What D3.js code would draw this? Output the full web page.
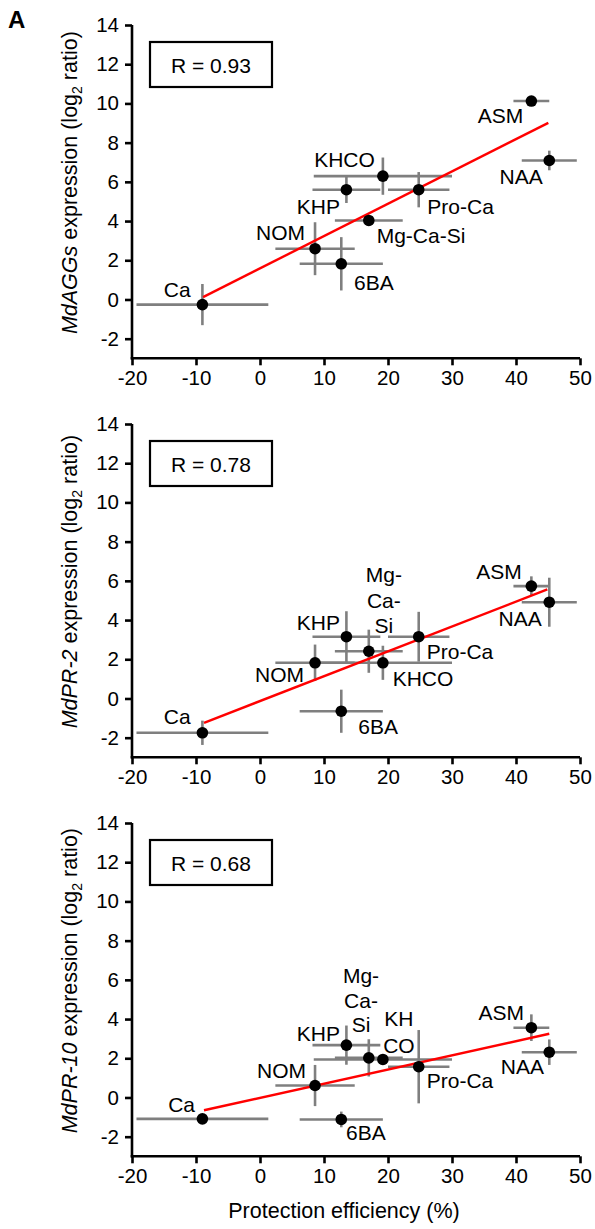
<!DOCTYPE html>
<html><head><meta charset="utf-8">
<script src="https://cdn.jsdelivr.net/npm/d3@7"></script>
<style>
html,body{margin:0;padding:0;background:#fff;}
svg{display:block;font-family:"Liberation Sans",Arial,sans-serif;}
</style></head>
<body>
<svg id="chart" width="595" height="1229"></svg>
<script>
// ---------- data ----------
const treatments = ["ASM","NAA","KHCO","KHP","Pro-Ca","Mg-Ca-Si","NOM","6BA","Ca"];
const protection    = [42.4, 45.2, 19.2, 13.5, 24.8, 17.0, 8.6, 12.7, -9.0];
const protectionErr = [2.8, 4.3, 10.8, 5.3, 4.8, 5.3, 6.2, 6.5, 10.3];

const aggs    = [10.12, 7.09, 6.29, 5.60, 5.60, 4.03, 2.59, 1.82, -0.26];
const aggsErr = [0.2, 0.5, 0.95, 0.68, 0.9, 0.28, 1.35, 1.36, 1.05];
const pr2     = [5.73, 4.91, 1.82, 3.15, 3.15, 2.41, 1.82, -0.65, -1.75];
const pr2Err  = [0.5, 1.25, 0.87, 1.3, 1.27, 1.1, 0.93, 1.1, 0.62];
const pr10    = [3.56, 2.31, 1.94, 2.67, 1.57, 2.02, 0.61, -1.12, -1.09];
const pr10Err = [0.68, 0.65, 0.2, 1.0, 1.87, 0.95, 1.05, 0.4, 0.15];

const rValues = ["0.93", "0.78", "0.68"];
const geneNames = ["MdAGGs", "MdPR-2", "MdPR-10"];
// regression line endpoints [x0, y0, x1, y1]
const fitLines = [[-8.9, 0.12, 45.05, 9.01], [-8.75, -1.24, 44.9, 5.56], [-8.75, -0.65, 45.2, 3.25]];

const xTicks = [-20, -10, 0, 10, 20, 30, 40, 50];
const yTicks = [-2, 0, 2, 4, 6, 8, 10, 12, 14];

// ---------- layout (label placement) ----------
const labelLayout = [
  { "ASM":{dx:-8,dy:22,a:"end"}, "NAA":{dx:-6.6,dy:24,a:"end"}, "KHCO":{dx:-8,dy:-9,a:"end"},
    "KHP":{dx:-6.4,dy:24,a:"end"}, "Pro-Ca":{dx:8.6,dy:24,a:"start"}, "Mg-Ca-Si":{dx:7.9,dy:22.3,a:"start"},
    "NOM":{dx:-10,dy:-8.3,a:"end"}, "6BA":{dx:12.7,dy:26,a:"start"}, "Ca":{dx:-11.7,dy:-8,a:"end"} },
  { "ASM":{dx:-9.7,dy:-6.7,a:"end"}, "NAA":{dx:-7.6,dy:23.3,a:"end"}, "KHCO":{dx:9.8,dy:23.4,a:"start"},
    "KHP":{dx:-6.4,dy:-6.3,a:"end"}, "Pro-Ca":{dx:8,dy:22,a:"start"},
    "Mg-Ca-Si":{dx:15,dy:-69,a:"middle",lines:["Mg-","Ca-","Si"],lh:25.3},
    "NOM":{dx:-11,dy:19.4,a:"end"}, "6BA":{dx:17,dy:22.6,a:"start"}, "Ca":{dx:-11.7,dy:-8.3,a:"end"} },
  { "ASM":{dx:-7.4,dy:-7.3,a:"end"}, "NAA":{dx:-5.3,dy:22.3,a:"end"},
    "KHCO":{dx:16,dy:-33.3,a:"middle",lines:["KH","CO"],lh:26.6},
    "KHP":{dx:-6.4,dy:-4,a:"end"}, "Pro-Ca":{dx:8,dy:21.7,a:"start"},
    "Mg-Ca-Si":{dx:-7.8,dy:-75,a:"middle",lines:["Mg-","Ca-","Si"],lh:24.7},
    "NOM":{dx:-9,dy:-7.7,a:"end"}, "6BA":{dx:4.7,dy:21,a:"start"}, "Ca":{dx:-7.4,dy:-7,a:"end"} }
];

const panelTops = [25, 424, 823];
const panelH = 333.3;
const seriesVals = [aggs, pr2, pr10];
const seriesErr = [aggsErr, pr2Err, pr10Err];

const svg = d3.select("#chart");
const x = d3.scaleLinear().domain([-20, 50]).range([132, 580]);
const errColor = "#7f7f7f";
const fmt = d => String(d);

svg.append("text").attr("x", 8).attr("y", 28).attr("font-size", 24).attr("font-weight", "bold").text("A");

panelTops.forEach((top, p) => {
  const y = d3.scaleLinear().domain([-3, 14]).range([top + panelH, top]);
  const g = svg.append("g");
  const pts = treatments.map((t, i) => ({
    name: t, x: protection[i], xe: protectionErr[i], y: seriesVals[p][i], ye: seriesErr[p][i]
  }));

  // axes
  const xAxis = g.append("g").attr("transform", `translate(0,${top + panelH})`)
    .call(d3.axisBottom(x).tickValues(xTicks).tickFormat(fmt).tickSize(7).tickPadding(5).tickSizeOuter(0));
  const yAxis = g.append("g").attr("transform", `translate(132,0)`)
    .call(d3.axisLeft(y).tickValues(yTicks).tickFormat(fmt).tickSize(7).tickPadding(6).tickSizeOuter(0));
  [xAxis, yAxis].forEach(a => {
    a.select(".domain").attr("stroke", "#000").attr("stroke-width", 2.6);
    a.selectAll(".tick line").attr("stroke", "#000").attr("stroke-width", 2.6);
    a.selectAll(".tick text").attr("font-size", 20.5).attr("fill", "#000")
      .attr("font-family", "'Liberation Sans', Arial, sans-serif");
  });
  yAxis.select(".domain").attr("d", `M0,${top}V${top + panelH + 1.3}`);
  xAxis.select(".domain").attr("d", `M${132 - 1.3},0H580`);

  // y title
  const yt = g.append("text")
    .attr("transform", `translate(77,${top + panelH / 2 - 9}) rotate(-90)`)
    .attr("text-anchor", "middle").attr("font-size", 21.5);
  yt.append("tspan").attr("font-style", "italic").text(geneNames[p]);
  yt.append("tspan").text(" expression (log");
  yt.append("tspan").attr("font-size", 14).attr("dy", 5).text("2");
  yt.append("tspan").attr("dy", -5).text(" ratio)");

  // R box
  g.append("rect").attr("x", 150).attr("y", top + 17).attr("width", 122).attr("height", 45)
    .attr("fill", "#fff").attr("stroke", "#000").attr("stroke-width", 2.2);
  g.append("text").attr("x", 211).attr("y", top + 47.5).attr("text-anchor", "middle")
    .attr("font-size", 21).text("R = " + rValues[p]);

  // error bars
  const eb = g.append("g").attr("stroke", errColor).attr("stroke-width", 2.6);
  eb.selectAll(".h").data(pts).join("line")
    .attr("x1", d => x(d.x - d.xe)).attr("x2", d => x(d.x + d.xe))
    .attr("y1", d => y(d.y)).attr("y2", d => y(d.y));
  eb.selectAll(".v").data(pts).join("line")
    .attr("x1", d => x(d.x)).attr("x2", d => x(d.x))
    .attr("y1", d => y(d.y - d.ye)).attr("y2", d => y(d.y + d.ye));

  // fit line
  const f = fitLines[p];
  g.append("line").attr("x1", x(f[0])).attr("y1", y(f[1])).attr("x2", x(f[2])).attr("y2", y(f[3]))
    .attr("stroke", "#ff0000").attr("stroke-width", 2.4);

  // dots
  g.selectAll("circle").data(pts).join("circle")
    .attr("cx", d => x(d.x)).attr("cy", d => y(d.y)).attr("r", 5.8).attr("fill", "#000");

  // labels
  pts.forEach(d => {
    const L = labelLayout[p][d.name];
    const t = g.append("text").attr("font-size", 21).attr("text-anchor", L.a)
      .attr("x", x(d.x) + L.dx).attr("y", y(d.y) + L.dy);
    if (L.lines) {
      L.lines.forEach((s, k) => t.append("tspan").attr("x", x(d.x) + L.dx).attr("dy", k === 0 ? 0 : L.lh).text(s));
    } else t.text(d.name);
  });
});

// x title
svg.append("text").attr("x", 344).attr("y", 1218).attr("text-anchor", "middle")
  .attr("font-size", 21.5).text("Protection efficiency (%)");
</script>
</body></html>
